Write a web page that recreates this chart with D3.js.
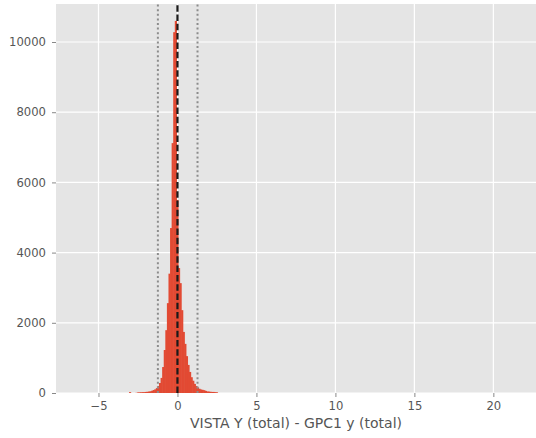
<!DOCTYPE html>
<html>
<head>
<meta charset="utf-8">
<script src="https://cdn.jsdelivr.net/npm/d3@7"></script>
<style>
  html, body { margin: 0; padding: 0; background: #ffffff; }
  svg { display: block; }
  text { font-family: "DejaVu Sans", sans-serif; }
</style>
</head>
<body>
<svg id="chart" width="536" height="438"></svg>
<script>
// Histogram of VISTA Y - GPC1 y differences (bin width 0.1 mag)
const binWidth = 0.1;
const binLeftEdges = [
  -3.05, -2.95, -2.85, -2.75, -2.65, -2.55, -2.45, -2.35, -2.25, -2.15,
  -2.05, -1.95, -1.85, -1.75, -1.65, -1.55, -1.45, -1.35, -1.25, -1.15,
  -1.05, -0.95, -0.85, -0.75, -0.65, -0.55, -0.45, -0.35, -0.25, -0.15,
  -0.05, 0.05, 0.15, 0.25, 0.35, 0.45, 0.55, 0.65, 0.75, 0.85,
  0.95, 1.05, 1.15, 1.25, 1.35, 1.45, 1.55, 1.65, 1.75, 1.85,
  1.95, 2.05, 2.15, 2.25, 2.35, 2.45
];
const binCounts = [
  25, 0, 0, 0, 5, 15, 20, 20, 25, 25,
  30, 35, 40, 50, 65, 85, 105, 140, 200, 285,
  430, 740, 1225, 1790, 2560, 3400, 4700, 7120, 10280, 10600,
  5500, 3560, 3130, 2360, 1740, 1400, 1050, 800, 600, 450,
  350, 260, 200, 160, 120, 100, 90, 80, 60, 45,
  40, 35, 30, 30, 25, 20
];

// Reference lines: centre (dashed) and spread limits (dotted)
const centreLine = [0.0];
const limitLines = [-1.24, 1.27];

const xTicks = [-5, 0, 5, 10, 15, 20];
const yTicks = [0, 2000, 4000, 6000, 8000, 10000];
const xDomain = [-7.69, 22.7];
const yDomain = [0, 11083];
const xLabel = "VISTA Y (total) - GPC1 y (total)";

const svg = d3.select("#chart");
const plot = { left: 56, right: 536, top: 4, bottom: 393 };

const x = d3.scaleLinear().domain(xDomain).range([plot.left, plot.right]);
const y = d3.scaleLinear().domain(yDomain).range([plot.bottom, plot.top]);

// axes background
svg.append("rect")
  .attr("x", plot.left).attr("y", plot.top)
  .attr("width", plot.right - plot.left).attr("height", plot.bottom - plot.top)
  .attr("fill", "#E5E5E5");

// grid
const grid = svg.append("g");
grid.selectAll("line.gx").data(xTicks).join("line")
  .attr("x1", d => x(d)).attr("x2", d => x(d))
  .attr("y1", plot.top).attr("y2", plot.bottom)
  .attr("stroke", "#ffffff").attr("stroke-width", 1.2);
grid.selectAll("line.gy").data(yTicks).join("line")
  .attr("x1", plot.left).attr("x2", plot.right)
  .attr("y1", d => y(d)).attr("y2", d => y(d))
  .attr("stroke", "#ffffff").attr("stroke-width", 1.2);

// bars (slight overlap so adjacent bins read as one solid fill)
const bins = binLeftEdges.map((x0, i) => ({ x0, x1: x0 + binWidth, n: binCounts[i] }));
svg.append("g").selectAll("rect").data(bins.filter(b => b.n > 0)).join("rect")
  .attr("x", d => x(d.x0) - 0.3)
  .attr("width", d => x(d.x1) - x(d.x0) + 0.6)
  .attr("y", d => y(d.n))
  .attr("height", d => y(0) - y(d.n))
  .attr("fill", "#E24A33");

// vertical reference lines
svg.append("g").selectAll("line").data(limitLines).join("line")
  .attr("x1", d => x(d)).attr("x2", d => x(d))
  .attr("y1", plot.bottom).attr("y2", plot.top)
  .attr("stroke", "#8c8c8c").attr("stroke-width", 2)
  .attr("stroke-dasharray", "2,2.6");
svg.append("g").selectAll("line").data(centreLine).join("line")
  .attr("x1", d => x(d)).attr("x2", d => x(d))
  .attr("y1", plot.bottom).attr("y2", plot.top)
  .attr("stroke", "#1a1a1a").attr("stroke-width", 2.2)
  .attr("stroke-dasharray", "6.5,2.8");

// axes
const xAxis = d3.axisBottom(x).tickValues(xTicks)
  .tickFormat(d => d < 0 ? "\u2212" + Math.abs(d) : String(d))
  .tickSize(4).tickPadding(5);
const yAxis = d3.axisLeft(y).tickValues(yTicks)
  .tickFormat(d => String(d)).tickSize(4).tickPadding(6);

const gx = svg.append("g").attr("transform", `translate(0,${plot.bottom})`).call(xAxis);
const gy = svg.append("g").attr("transform", `translate(${plot.left},0)`).call(yAxis);
[gx, gy].forEach(g => {
  g.select(".domain").remove();
  g.selectAll(".tick line").attr("stroke", "#7a7a7a").attr("stroke-width", 0.9);
  g.selectAll(".tick text").attr("fill", "#555555")
    .style("font-family", "'DejaVu Sans', sans-serif").style("font-size", "11.6px");
});

svg.append("text")
  .attr("x", (x(xDomain[0]) + x(xDomain[1])) / 2)
  .attr("y", 428)
  .attr("text-anchor", "middle")
  .attr("fill", "#555555")
  .style("font-size", "14px")
  .text(xLabel);
</script>
</body>
</html>
